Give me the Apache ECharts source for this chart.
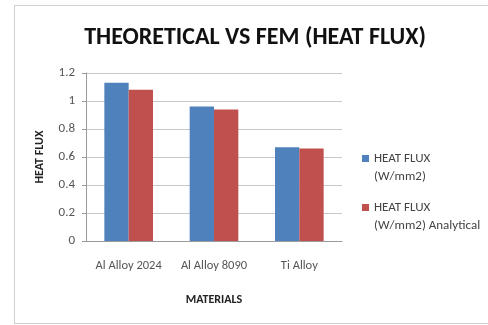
<!DOCTYPE html>
<html>
<head>
<meta charset="utf-8">
<script src="https://cdn.jsdelivr.net/npm/echarts@6/dist/echarts.min.js"></script>
<style>
  html, body { margin: 0; padding: 0; background: #fff; overflow: hidden; }
  #frame { position: absolute; left: 14px; top: 5px; width: 490px; height: 319px; border: 1px solid #d0d0d0; box-sizing: border-box; }
  #chart { position: absolute; left: 0; top: 0; width: 488px; height: 325px; }
</style>
</head>
<body>
<div id="frame"></div>
<div id="chart"></div>
<script>
// Heat flux per material: FEM result vs analytical value
const materials = ['Al Alloy 2024', 'Al Alloy 8090', 'Ti Alloy'];
const femFlux = [1.13, 0.96, 0.67];
const analyticalFlux = [1.08, 0.94, 0.66];
const seriesNames = ['HEAT FLUX\n(W/mm2)', 'HEAT FLUX\n(W/mm2) Analytical'];

const chart = echarts.init(document.getElementById('chart'), null, { renderer: 'canvas' });
const font = 'Carlito, "Open Sans", "Liberation Sans", sans-serif';

// legend swatch sits beside the first text line: square at top, empty space below
const swatch = 'path://M0,0h7v7h-7z M0,26h0.01v0.01h-0.01z';

chart.setOption({
  animation: false,
  title: {
    text: 'THEORETICAL VS FEM (HEAT FLUX)',
    left: 250, top: 21, textAlign: 'center',
    textStyle: { fontFamily: font, fontWeight: 'bold', fontSize: 24, color: '#111' }
  },
  grid: { left: 86, right: 146, top: 73, bottom: 84 },
  legend: {
    orient: 'vertical',
    left: 362, top: 150, padding: 0,
    itemWidth: 7, itemHeight: 26, itemGap: 13,
    icon: swatch,
    textStyle: { fontFamily: font, fontSize: 13, color: '#444', lineHeight: 18 },
    data: seriesNames
  },
  xAxis: {
    type: 'category',
    data: materials,
    name: 'MATERIALS',
    nameLocation: 'middle',
    nameGap: 53,
    nameTextStyle: { fontFamily: font, fontWeight: 'bold', fontSize: 12, color: '#222' },
    axisLine: { lineStyle: { color: '#9a9a9a' } },
    axisTick: { show: false },
    axisLabel: { fontFamily: font, fontSize: 12.5, color: '#555', margin: 18, interval: 0 }
  },
  yAxis: {
    type: 'value',
    min: 0, max: 1.2, interval: 0.2,
    name: 'HEAT FLUX',
    nameLocation: 'middle',
    nameGap: 40,
    nameRotate: 90,
    nameTextStyle: { fontFamily: font, fontWeight: 'bold', fontSize: 12, color: '#222' },
    axisLine: { show: true, lineStyle: { color: '#9a9a9a' } },
    axisTick: { show: true, length: 4, lineStyle: { color: '#9a9a9a' } },
    splitLine: { lineStyle: { color: '#c8c8c8' } },
    axisLabel: {
      fontFamily: font, fontSize: 13, color: '#555', margin: 11,
      formatter: v => String(Math.round(v * 10) / 10)
    }
  },
  series: [
    { name: seriesNames[0], type: 'bar', data: femFlux, barGap: '0%', barCategoryGap: '43%',
      itemStyle: { color: '#4F81BD' } },
    { name: seriesNames[1], type: 'bar', data: analyticalFlux,
      itemStyle: { color: '#C0504D' } }
  ]
});
</script>
</body>
</html>
